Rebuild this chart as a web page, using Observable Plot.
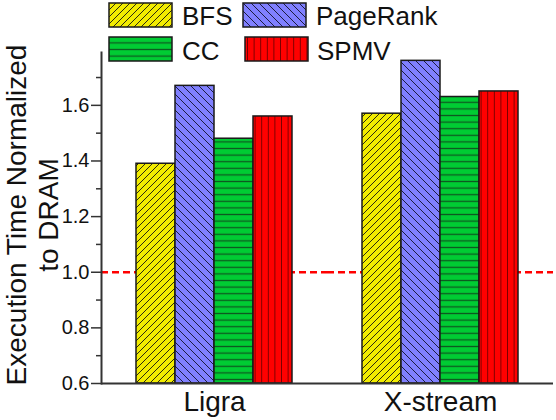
<!DOCTYPE html>
<html><head><meta charset="utf-8">
<script src="https://cdn.jsdelivr.net/npm/d3@7"></script>
<script src="https://cdn.jsdelivr.net/npm/@observablehq/plot@0.6"></script>
<style>body{margin:0;background:#fff} svg{font-family:"Liberation Sans",Arial,sans-serif}</style>
</head><body><div id="chart"></div>
<script>
const categories = ["Ligra", "X-stream"];
const series = ["BFS", "PageRank", "CC", "SPMV"];
const ligraValues = [1.39, 1.67, 1.48, 1.56];
const xstreamValues = [1.57, 1.76, 1.63, 1.65];
const yTicks = [0.6, 0.8, 1.0, 1.2, 1.4, 1.6];
const yMinorTicks = [0.7, 0.9, 1.1, 1.3, 1.5, 1.7];
const referenceLine = [1.0];
const yTitle = "Execution Time Normalized\nto DRAM";

const fills = ["#f2ec00", "#8080ff", "#00cc33", "#ff0000"];
const hatchColors = ["#2a2a10", "#1c1c40", "#0d5a20", "#7a0000"];

const data = [];
[ligraValues, xstreamValues].forEach((vals, i) =>
  vals.forEach((v, j) => data.push({cat: categories[i], series: series[j], value: v})));

const patIds = series.map((s, i) => "pat" + i);

const plot = Plot.plot({
  width: 556, height: 420,
  marginLeft: 100, marginRight: 3, marginTop: 52, marginBottom: 37,
  style: {fontFamily: "Liberation Sans, Arial, sans-serif", background: "white", color: "#111"},
  fx: {domain: categories, padding: 0},
  x: {domain: series, paddingInner: 0, paddingOuter: 0.83, axis: null},
  y: {domain: [0.6, 1.79]},
  color: {domain: series, range: patIds.map(id => `url(#${id})`)},
  marks: [
    Plot.ruleY(referenceLine, {stroke: "#ff0000", strokeWidth: 2.5, strokeDasharray: "7,4"}),
    Plot.barY(data, {fx: "cat", x: "series", y1: 0.6, y2: "value", fill: "series", stroke: "#1a1a1a", strokeWidth: 1.5}),
    Plot.ruleY([0.6], {stroke: "#333", strokeWidth: 2}),
    Plot.frame({anchor: "left", stroke: "#333", strokeWidth: 2, facetAnchor: "left"}),
    Plot.axisY({ticks: yTicks, tickSize: 10, tickPadding: 2, tickFormat: d3.format(".1f"), fontSize: 20, label: null, stroke: "#333", strokeWidth: 1.5, fill: "#111"}),
    Plot.axisY({ticks: yMinorTicks, tickSize: 5, tickFormat: () => "", label: null, stroke: "#333", strokeWidth: 1.5}),
    Plot.axisFx({anchor: "bottom", tickSize: 0, tickPadding: 8, fontSize: 28, label: null, fill: "#111"}),
    Plot.text([yTitle], {frameAnchor: "left", textAnchor: "middle", lineAnchor: "middle", rotate: -90, dx: -70, dy: -3, fontSize: 28, lineHeight: 1.143, fill: "#111", facetAnchor: "left"})
  ]
});

const svg = d3.select(plot);
const defs = svg.insert("defs", ":first-child");
function pattern(id, w, h, bg, paths, color, sw) {
  const p = defs.append("pattern").attr("id", id).attr("patternUnits", "userSpaceOnUse")
    .attr("width", w).attr("height", h);
  p.append("rect").attr("width", w).attr("height", h).attr("fill", bg);
  p.append("path").attr("d", paths).attr("stroke", color).attr("stroke-width", sw).attr("fill", "none");
}
pattern(patIds[0], 7, 7, fills[0], "M-1,1 L1,-1 M0,7 L7,0 M6,8 L8,6", hatchColors[0], 1);
pattern(patIds[1], 8, 8, fills[1], "M-1,7 L1,9 M0,0 L8,8 M7,-1 L9,1", hatchColors[1], 1);
pattern(patIds[2], 6.6, 6.6, fills[2], "M0,3.3 L6.6,3.3", hatchColors[2], 1.3);
pattern(patIds[3], 6.6, 6.6, fills[3], "M3.3,0 L3.3,6.6", hatchColors[3], 1);

// legend (overlaid at the top of the chart)
const legendItems = [
  {i: 0, x: 109, y: 3, tx: 182, ty: 25},
  {i: 1, x: 243, y: 3, tx: 316, ty: 25},
  {i: 2, x: 109, y: 37, tx: 182, ty: 60},
  {i: 3, x: 245, y: 37, tx: 317, ty: 60}
];
const lg = svg.append("g").attr("text-anchor", "start");
legendItems.forEach(d => {
  lg.append("rect").attr("x", d.x).attr("y", d.y).attr("width", 63).attr("height", 24)
    .attr("fill", `url(#${patIds[d.i]})`).attr("stroke", "#1a1a1a").attr("stroke-width", 1.5);
  lg.append("text").attr("x", d.tx).attr("y", d.ty).attr("font-size", 26).attr("fill", "#111")
    .attr("text-anchor", "start").text(series[d.i]);
});

document.getElementById("chart").appendChild(plot);
</script>
</body></html>
